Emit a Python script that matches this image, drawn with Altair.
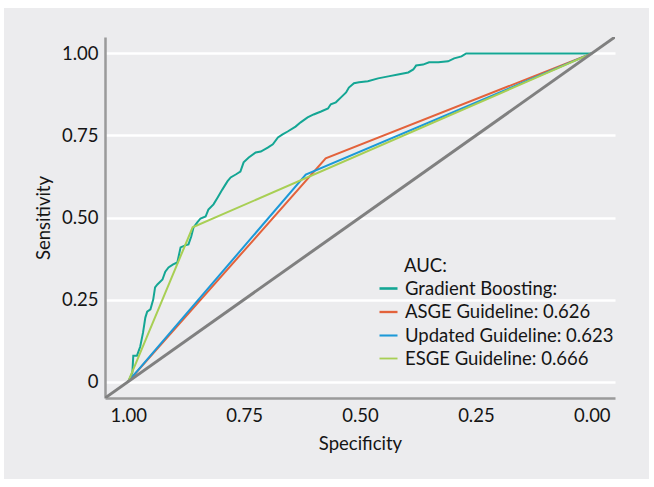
import altair as alt
import pandas as pd

series_names = ["Gradient Boosting:", "ASGE Guideline: 0.626",
                "Updated Guideline: 0.623", "ESGE Guideline: 0.666"]
series_colors = ["#14A694", "#E3623B", "#1C99D8", "#A8CF54"]

gb_spec = [1.000, 0.991, 0.989, 0.981, 0.974, 0.968, 0.963, 0.959, 0.952, 0.946,
           0.942, 0.937, 0.926, 0.920, 0.913, 0.903, 0.894, 0.887, 0.877, 0.870,
           0.864, 0.859, 0.851, 0.844, 0.833, 0.827, 0.816, 0.807, 0.797, 0.786,
           0.779, 0.768, 0.758, 0.751, 0.740, 0.725, 0.714, 0.699, 0.688, 0.677,
           0.667, 0.656, 0.639, 0.628, 0.613, 0.600, 0.584, 0.569, 0.563, 0.552,
           0.541, 0.530, 0.524, 0.513, 0.502, 0.483, 0.461, 0.439, 0.418, 0.396,
           0.385, 0.379, 0.364, 0.351, 0.331, 0.310, 0.297, 0.281, 0.271, 0.000]
gb_sens = [0.000, 0.027, 0.079, 0.079, 0.107, 0.149, 0.195, 0.213, 0.220, 0.250,
           0.287, 0.296, 0.311, 0.335, 0.348, 0.357, 0.363, 0.409, 0.415, 0.418,
           0.442, 0.470, 0.485, 0.497, 0.503, 0.524, 0.540, 0.561, 0.585, 0.610,
           0.622, 0.631, 0.640, 0.668, 0.683, 0.698, 0.701, 0.713, 0.723, 0.744,
           0.753, 0.762, 0.777, 0.790, 0.805, 0.814, 0.823, 0.832, 0.845, 0.851,
           0.866, 0.881, 0.896, 0.909, 0.912, 0.915, 0.924, 0.930, 0.936, 0.942,
           0.951, 0.963, 0.966, 0.973, 0.973, 0.976, 0.985, 0.991, 1.000, 1.000]

asge_spec = [1.0, 0.574, 0.0]
asge_sens = [0.0, 0.680, 1.0]
upd_spec = [1.0, 0.617, 0.0]
upd_sens = [0.0, 0.631, 1.0]
esge_spec = [1.0, 0.861, 0.0]
esge_sens = [0.0, 0.470, 1.0]

diag_spec = [1.05, -0.05]
diag_sens = [-0.05, 1.05]

tick_values = [0, 0.25, 0.5, 0.75, 1.0]

rows = []
for name, sp, se in zip(series_names,
                        [gb_spec, asge_spec, upd_spec, esge_spec],
                        [gb_sens, asge_sens, upd_sens, esge_sens]):
    for i, (a, b) in enumerate(zip(sp, se)):
        rows.append({"series": name, "spec": a, "sens": b, "idx": i})
df = pd.DataFrame(rows)
diag_df = pd.DataFrame({"spec": diag_spec, "sens": diag_sens})

FONT = "Lato"
FS = 18.5
TEXT = "#151515"

xscale = alt.Scale(domain=[-0.05, 1.05], reverse=True, nice=False, zero=False)
yscale = alt.Scale(domain=[-0.05, 1.05], nice=False, zero=False)

xaxis = alt.Axis(values=tick_values, format=".2f", title="Specificity", grid=False,
                 ticks=False, domainColor="#9a9a9a", domainWidth=2.5,
                 labelFont=FONT, labelFontSize=FS, labelColor=TEXT, labelPadding=8,
                 titleFont=FONT, titleFontSize=FS, titleColor=TEXT,
                 titleFontWeight="normal", titlePadding=10)
yaxis = alt.Axis(values=tick_values, title="Sensitivity", grid=True,
                 gridColor="white", gridWidth=2.5,
                 labelExpr="datum.value == 0 ? '0' : format(datum.value, '.2f')",
                 ticks=False, domainColor="#9a9a9a", domainWidth=2.5,
                 labelFont=FONT, labelFontSize=FS, labelColor=TEXT, labelPadding=7,
                 titleFont=FONT, titleFontSize=FS, titleColor=TEXT,
                 titleFontWeight="normal", titlePadding=8)

lines = alt.Chart(df).mark_line(strokeWidth=2, clip=True).encode(
    x=alt.X("spec:Q", scale=xscale, axis=xaxis),
    y=alt.Y("sens:Q", scale=yscale, axis=yaxis),
    color=alt.Color("series:N",
                    scale=alt.Scale(domain=series_names, range=series_colors),
                    sort=series_names,
                    legend=alt.Legend(title=None, orient="none", legendX=273,
                                      legendY=241, symbolType="stroke",
                                      symbolSize=324, symbolStrokeWidth=3,
                                      labelFont=FONT, labelFontSize=FS,
                                      labelColor=TEXT, labelOffset=6,
                                      rowPadding=3.5, labelLimit=400)),
    strokeWidth=alt.StrokeWidth("series:N",
                                scale=alt.Scale(domain=series_names,
                                                range=[2.6, 1.8, 1.8, 1.8]),
                                legend=None),
    order="idx:Q",
    detail="series:N",
)

diag = alt.Chart(diag_df).mark_line(color="#808080", strokeWidth=3, clip=True).encode(
    x=alt.X("spec:Q", scale=xscale),
    y=alt.Y("sens:Q", scale=yscale),
)

auc_title = alt.Chart(pd.DataFrame({"t": ["AUC:"]})).mark_text(
    align="left", baseline="middle", font=FONT, fontSize=FS, color=TEXT
).encode(x=alt.value(299), y=alt.value(229), text="t:N")

frame = alt.Chart(pd.DataFrame({"k": [0]})).mark_rect(
    fill=None, fillOpacity=0, stroke="white", strokeWidth=14
).encode(x=alt.value(-108), x2=alt.value(551), y=alt.value(-36), y2=alt.value(449))

chart = alt.layer(lines, diag, auc_title, frame).properties(
    width=510, height=361,
    autosize=alt.AutoSizeParams(type="none"),
    padding={"left": 105, "top": 37, "right": 39, "bottom": 89},
    background="#ECECEE",
).configure_view(stroke=None)

chart.save("out.html", embed_options={"renderer": "svg", "actions": False})
